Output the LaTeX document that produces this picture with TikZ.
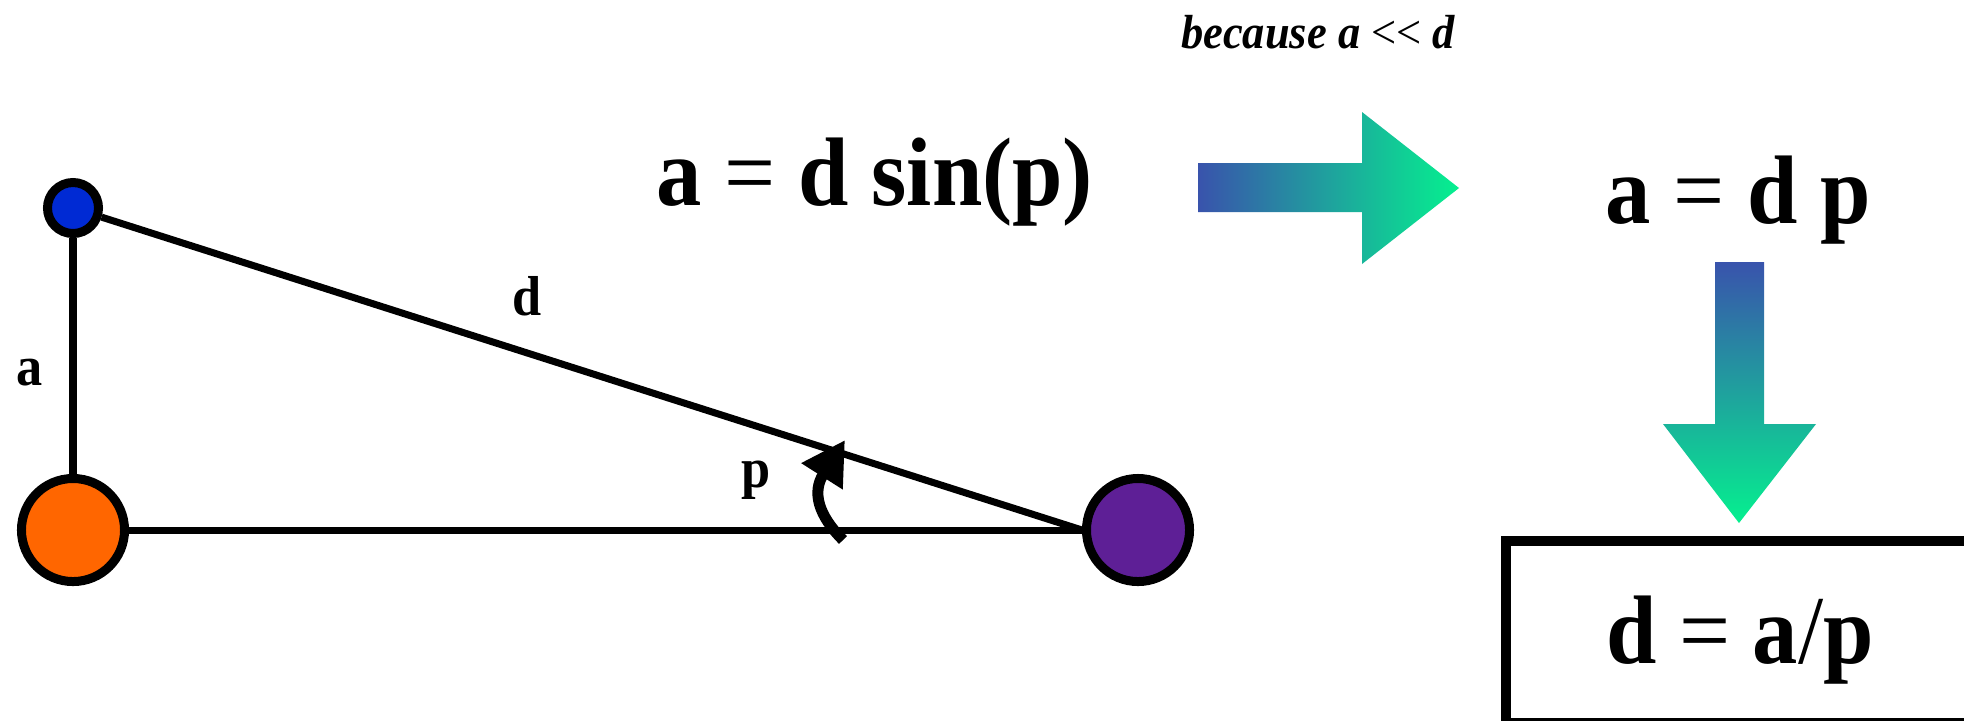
\documentclass[tikz,border=0pt]{standalone}
\usepackage{fontspec}
\setmainfont{Liberation Serif}
\newfontfamily\eqfont[FakeStretch=0.93]{Liberation Serif}
\usetikzlibrary{arrows.meta}
\definecolor{gblue}{RGB}{57,83,172}
\definecolor{ggreen}{RGB}{5,240,143}
\definecolor{ptblue}{RGB}{0,42,212}
\definecolor{ptorange}{RGB}{255,102,0}
\definecolor{ptpurple}{RGB}{94,31,150}
\tikzset{
  pt/.style={circle, draw=black, line width=0.09cm, inner sep=0pt},
  edge/.style={line width=0.07cm, draw=black},
  biglbl/.style={anchor=base, inner sep=0pt, font=\eqfont\bfseries\fontsize{27.7pt}{30pt}\selectfont},
  smalllbl/.style={anchor=base, inner sep=0pt, font=\eqfont\bfseries\fontsize{16pt}{18pt}\selectfont},
  notelbl/.style={anchor=base, inner sep=0pt, font=\eqfont\bfseries\itshape\fontsize{13.6pt}{16pt}\selectfont},
  gradarrow/.style={draw=none},
  anglearrow/.style={line width=0.11cm, -{Triangle[length=0.43cm,width=0.46cm]}},
  resultbox/.style={draw=black, line width=0.1cm, inner sep=0pt, outer sep=0pt, minimum width=4.84cm, minimum height=1.82cm}
}
\begin{document}
\begin{tikzpicture}[x=0.01cm,y=-0.01cm]
\clip (0,0) rectangle (1964,720);
\fill[white] (0,0) rectangle (1964,720);

% triangle vertices
\node[pt, fill=ptblue, minimum size=0.51cm] (A) at (73,208) {};
\node[pt, fill=ptorange, minimum size=1.03cm] (B) at (73,530) {};
\node[pt, fill=ptpurple, minimum size=1.03cm] (C) at (1138,530) {};

\draw[edge] (A) -- (B);
\draw[edge] (B) -- (C);
\draw[edge] (A) -- (C.west);

% side labels
\node[smalllbl] (la) at (30,385) {a};
\node[smalllbl] (ld) at (527,315) {d};
\node[smalllbl] (lp) at (756,487) {p};

% angle arrow
\coordinate (arcS) at (843,540);
\coordinate (arcE) at (845,440);
\draw[anglearrow] (arcS) .. controls (818,515) and (812,492) .. (arcE);

% equations
\node[biglbl] (eq1) at (875,205) {a {\mdseries =} d sin(p)};
\node[notelbl] (note) at (1318,48) {because a {\mdseries\upshape <{}<} d};
\node[biglbl] (eq2) at (1738,223) {a {\mdseries =} d p};

% gradient arrows
\shade[gradarrow, left color=gblue, right color=ggreen]
  (1198,163) -- (1362,163) -- (1362,112) -- (1459,188) -- (1362,264) -- (1362,212) -- (1198,212) -- cycle;
\shade[gradarrow, top color=gblue, bottom color=ggreen]
  (1715,262) -- (1764,262) -- (1764,424) -- (1816,424) -- (1739,523) -- (1663,424) -- (1715,424) -- cycle;

% result box
\node[resultbox] (box) at (1748,632) {};
\node[biglbl] (eq3) at (1740,663) {d {\mdseries =} a{\mdseries /}p};
\end{tikzpicture}
\end{document}
